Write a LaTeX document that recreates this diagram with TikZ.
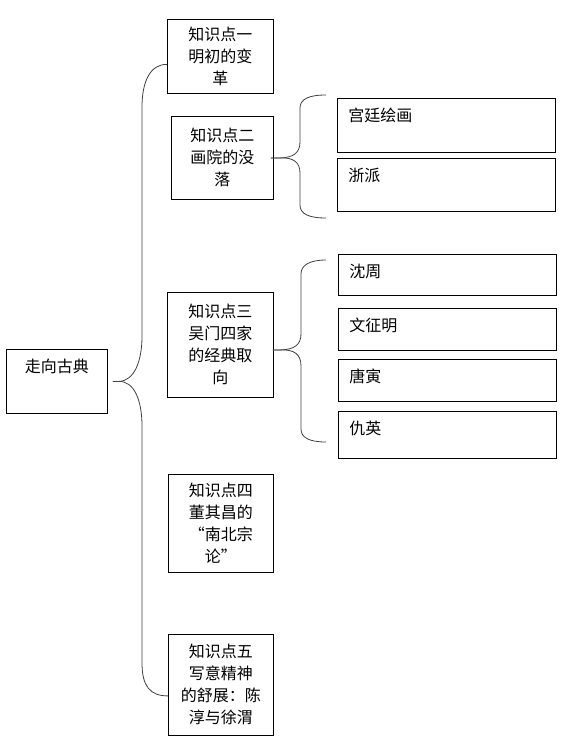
\documentclass[tikz,border=0pt]{standalone}
\usepackage{fontspec}
\setmainfont{Noto Sans CJK SC}
\usepackage{tikz}
\usetikzlibrary{positioning, calc}
\tikzset{
  kpbox/.style={rectangle, draw=black, line width=0.8pt, anchor=north west,
                text width=90pt, align=center, inner xsep=4pt, inner ysep=0pt},
  rootbox/.style={rectangle, draw=black, line width=0.8pt, anchor=north west,
                  text width=93pt, align=center, inner xsep=4pt, inner ysep=0pt,
                  text height=23pt, text depth=41pt},
  leafbox/.style={rectangle, draw=black, line width=0.8pt, anchor=north west,
                  text width=196pt, align=left, inner xsep=11pt, inner ysep=0pt,
                  text height=23pt, text depth=#1},
  leafbox/.default=30pt,
  brace/.style={draw=black!75, line width=0.8pt},
}

\begin{document}
\begin{tikzpicture}[x=1pt, y=-1pt, font=\fontsize{16}{22}\selectfont]

\useasboundingbox (0,0) rectangle (564,739);

% ── 根节点 ────────────────────────────────────────────────────────────────────
\node[rootbox] (root) at (6,349) {走向古典};

% ── 五个知识点 ────────────────────────────────────────────────────────────────
\node[kpbox, minimum width=106pt, minimum height=74pt] (kp1) at (167,19)
  {知识点一\\明初的变\\革};
\node[kpbox, minimum width=102pt, minimum height=83pt] (kp2) at (171,116)
  {知识点二\\画院的没\\落};
\node[kpbox, minimum width=106pt, minimum height=105pt] (kp3) at (167,292)
  {知识点三\\吴门四家\\的经典取\\向};
\node[kpbox, minimum width=105pt, minimum height=98pt] (kp4) at (168,474)
  {知识点四\\董其昌的\\“南北宗\\论”};
\node[kpbox, minimum width=105pt, minimum height=101pt] (kp5) at (168,634)
  {知识点五\\写意精神\\的舒展：陈\\淳与徐渭};

% ── 画院的没落：分支 ──────────────────────────────────────────────────────────
\node[leafbox=31pt] (gongting) at (337,98)  {宫廷绘画};
\node[leafbox=30pt] (zhepai)   at (337,158) {浙派};

% ── 吴门四家：分支 ────────────────────────────────────────────────────────────
\node[leafbox=18pt] (shenzhou) at (338,254) {沈周};
\node[leafbox=19pt] (wen)      at (338,308) {文征明};
\node[leafbox=19pt] (tangyin)  at (338,359) {唐寅};
\node[leafbox=24pt] (qiuying)  at (338,411) {仇英};

% 括号端点
\coordinate (b2top) at (326,95);
\coordinate (b2bot) at (326,218);
\coordinate (b3top) at (326,260);
\coordinate (b3bot) at (326,442);

% ── 大括号 ────────────────────────────────────────────────────────────────────
% 根节点 → 知识点一 / 知识点五
\draw[brace] ([xshift=5pt]root.east) -- ++(6,0)
  .. controls (134,381) and (142,362) .. (142,336) -- (142,107)
  .. controls (142,82) and (150,64) .. ([yshift=-8pt]kp1.west);
\draw[brace] ([xshift=5pt]root.east) -- ++(6,0)
  .. controls (134,381) and (142,400) .. (142,426) -- (142,663)
  .. controls (142,686) and (150,696) .. ([yshift=-11pt]kp5.west);

% 知识点二
\draw[brace] ([xshift=-3pt]kp2.east) -- ++(10,0)
  .. controls (293,157.5) and (300,153) .. (300,142) -- (300,108)
  .. controls (300,99) and (309,95) .. (b2top);
\draw[brace] ([xshift=-3pt]kp2.east) -- ++(10,0)
  .. controls (293,157.5) and (300,162) .. (300,173) -- (300,205)
  .. controls (300,214) and (309,218) .. (b2bot);

% 知识点三
\draw[brace] ([xshift=-1pt, yshift=-5pt]kp3.east) -- ++(8,0)
  .. controls (294,349.5) and (301,345) .. (301,334) -- (301,274)
  .. controls (301,265) and (310,260) .. (b3top);
\draw[brace] ([xshift=-1pt, yshift=-5pt]kp3.east) -- ++(8,0)
  .. controls (294,349.5) and (301,354) .. (301,366) -- (301,429)
  .. controls (301,438) and (310,442) .. (b3bot);

\end{tikzpicture}
\end{document}
